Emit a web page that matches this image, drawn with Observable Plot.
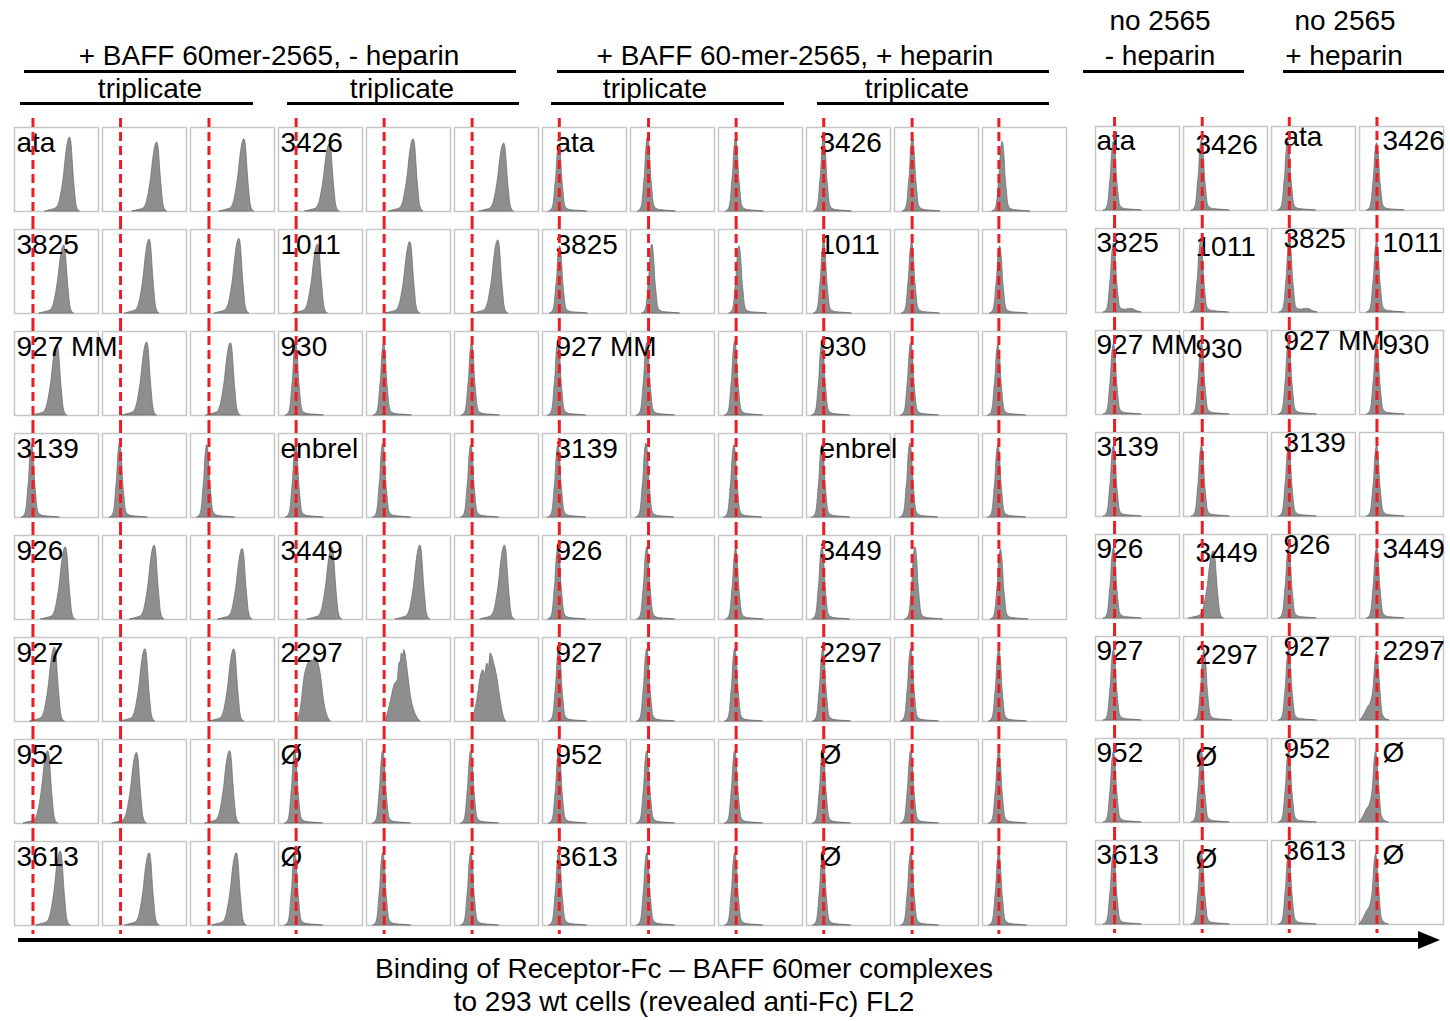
<!DOCTYPE html>
<html><head><meta charset="utf-8">
<script src="https://cdn.jsdelivr.net/npm/d3@7"></script>
<script src="https://cdn.jsdelivr.net/npm/@observablehq/plot@0.6"></script>
<style>
body{margin:0;background:#fff;}
#fig{position:relative;width:1450px;height:1021px;font-family:"Liberation Sans",Arial,Helvetica,sans-serif;color:#000;overflow:hidden;background:#fff}
.t{position:absolute;font-size:28px;line-height:28px;text-align:center;white-space:nowrap;width:500px}
.ln{position:absolute;height:3px;background:#000}
.plot{position:absolute}
</style></head><body>
<div id="fig">
  <div class="t" style="left:910px;top:7px">no 2565</div>
  <div class="t" style="left:1095px;top:7px">no 2565</div>
  <div class="t" style="left:19px;top:42px">+ BAFF 60mer-2565, - heparin</div>
  <div class="t" style="left:545px;top:42px">+ BAFF 60-mer-2565, + heparin</div>
  <div class="t" style="left:910px;top:42px">- heparin</div>
  <div class="t" style="left:1094px;top:42px">+ heparin</div>
  <div class="ln" style="left:24px;top:70px;width:492px"></div>
  <div class="ln" style="left:557px;top:70px;width:492px"></div>
  <div class="ln" style="left:1083px;top:70px;width:161px"></div>
  <div class="ln" style="left:1283px;top:70px;width:161px"></div>
  <div class="t" style="left:-100px;top:75px">triplicate</div>
  <div class="t" style="left:152px;top:75px">triplicate</div>
  <div class="t" style="left:405px;top:75px">triplicate</div>
  <div class="t" style="left:667px;top:75px">triplicate</div>
  <div class="ln" style="left:20px;top:102px;width:233px"></div>
  <div class="ln" style="left:287px;top:102px;width:232px"></div>
  <div class="ln" style="left:551px;top:102px;width:233px"></div>
  <div class="ln" style="left:817px;top:102px;width:232px"></div>
  <div id="leftPlot" class="plot" style="left:0px;top:110px"></div>
  <div id="rightPlot" class="plot" style="left:1082px;top:109px"></div>
  <div style="position:absolute;left:18px;top:938px;width:1402px;height:4px;background:#000"></div>
  <div style="position:absolute;left:1418px;top:931px;width:0;height:0;border-left:22px solid #000;border-top:9px solid transparent;border-bottom:9px solid transparent"></div>
  <div class="t" style="left:234px;top:955px;width:900px">Binding of Receptor-Fc – BAFF 60mer complexes</div>
  <div class="t" style="left:234px;top:988px;width:900px">to 293 wt cells (revealed anti-Fc) FL2</div>
</div>
<script>
// ---- row receptors ----
const receptorsA = ["ata","3825","927 MM","3139","926","927","952","3613"];
const receptorsB = ["3426","1011","930","enbrel","3449","2297","Ø","Ø"];
// right block: enbrel row carries no label
const rightReceptorsB = ["3426","1011","930","","3449","2297","Ø","Ø"];

// ---- which receptor set each column shows ----
const leftSides = ["A","A","A","B","B","B","A","A","A","B","B","B"];
const rightSides = ["A","B","A","B"];
const leftLabelCols = [0,3,6,9];
const rightLabelCols = [0,1,2,3];

// ---- gate (red dashed marker) per column, FL2 units (0-100) ----
const leftGates = [22,21.5,22,21,21,21,20,21.5,21,20.5,21,19.5];
const rightGates = [22.7,22.3,21.2,20.8];

// ---- histogram peak positions (FL2 units), rows x columns ----
const leftPeaks = [
  [66,65,64,61,56,59,20,21,21,21,22,24],
  [59,56,58,47,52,52,21,26,25,21,21,21],
  [51,53,48,21,21,21,19,20,20,19,20,19],
  [21,21,20,21,20,20,19,19,19,19,19,19],
  [61,62,62,64,64,60,19,20,21,19,25,22],
  [48,51,52,43,45,43,20,20,20,20,20,20],
  [40,41,47,20,20,20,20,20,20,20,20,20],
  [55,56,55,20,20,20,20,20,20,20,20,20]
];
const rightPeaks = [
  [22,22,20,21],
  [22,21,22,21],
  [22,22,21,21],
  [22,22,21,21],
  [22,36,21,21],
  [22,25,21,21],
  [22,22,21,20],
  [22,22,21,20]
];

// ---- histogram shape per panel (p positive, n negative, a/b/c 2297 replicates, s shoulder, t tail) ----
const leftShapes = ["ppppppnnnnnn","ppppppnnnnnn","pppnnnnnnnnn","nnnnnnnnnnnn",
                    "ppppppnnnnnn","pppabcnnnnnn","pppnnnnnnnnn","pppnnnnnnnnn"];
const rightShapes = ["nnnn","tntn","nnnn","nnnn","npnn","nnns","nnns","nnns"];

// ---- peak heights (fraction of max) ----
const leftHeights = [
  [.88,.82,.86,.80,.86,.81,.79,.89,.87,.88,.88,.83],
  [.81,.88,.89,.82,.85,.87,.80,.82,.80,.85,.85,.80],
  [.84,.87,.86,.86,.86,.86,.88,.86,.88,.86,.86,.84],
  [.86,.88,.86,.86,.88,.86,.86,.88,.86,.86,.88,.86],
  [.86,.88,.84,.86,.88,.88,.86,.86,.84,.86,.86,.83],
  [.88,.86,.86,1,1,1,.86,.86,.86,.86,.86,.86],
  [.86,.84,.86,.86,.86,.86,.86,.86,.86,.86,.86,.86],
  [.88,.86,.86,.86,.86,.86,.86,.86,.86,.86,.86,.86]
];
const rightHeights = [
  [.82,.84,.82,.80],
  [.82,.84,.86,.84],
  [.84,.84,.86,.84],
  [.84,.84,.84,.84],
  [.84,.80,.84,.84],
  [.84,.84,.84,.82],
  [.84,.84,.84,.84],
  [.84,.84,.84,.84]
];

// ---- histogram profiles (offset from peak, relative count) ----
const profiles = {
  n: {dx:[-12,-9,-7,-6,-5,-3.5,-2.4,-1.2,0,1.2,2.4,3.5,5,6,7,9.5,14,24,33],
      h:[0,0.03,0.1,0.2,0.35,0.55,0.8,0.95,1,0.93,0.75,0.5,0.3,0.17,0.09,0.04,0.02,0.01,0]},
  t: {dx:[-12,-9,-7,-6,-5,-3.5,-2.4,-1.2,0,1.2,2.4,3.5,5,6,7,9.5,14,18,22,27,33],
      h:[0,0.03,0.1,0.2,0.35,0.55,0.8,0.95,1,0.93,0.75,0.5,0.3,0.17,0.09,0.05,0.04,0.05,0.05,0.02,0]},
  p: {dx:[-29,-23,-17,-14,-12,-9.5,-7,-4.7,-2.4,0,1.2,2.4,3.5,4.7,6,7,8.2,9.4,12],
      h:[0,0.02,0.04,0.08,0.15,0.3,0.5,0.75,0.93,1,0.97,0.85,0.65,0.45,0.28,0.15,0.07,0.03,0]},
  a: {dx:[-20,-16,-12,-9,-7,-6,-3,-1.5,0,2.7,4.7,7.8,11,15.6,19.5],
      h:[0.02,0.18,0.53,0.65,0.7,0.68,0.73,0.71,0.77,0.75,0.69,0.53,0.26,0.06,0]},
  b: {dx:[-21.5,-15.6,-11.8,-7.8,-5.9,-4,-3.1,-1.5,0,1.5,4,7.9,13.8,19.6],
      h:[0.02,0.26,0.43,0.49,0.69,0.72,0.81,0.78,0.85,0.8,0.61,0.3,0.08,0]},
  c: {dx:[-21.6,-15.8,-11.8,-8.7,-6.7,-4,-2,0,1.9,4,7.8,11.8,15.6,19],
      h:[0.02,0.26,0.53,0.61,0.56,0.69,0.64,0.81,0.78,0.7,0.53,0.26,0.06,0]},
  s: {dx:[-20,-17,-11,-7,-4,-2,0,1.5,3.5,6.6,10.6,15],
      h:[0,0.05,0.19,0.28,0.51,0.88,1,0.84,0.51,0.09,0.02,0]}
};

function build(sides, namesA, namesB, gates, peaks, shapes, heights, labelCols) {
  const pts = [], gateRows = [], labels = [];
  peaks.forEach((rowPeaks, row) => rowPeaks.forEach((peak, col) => {
    const prof = profiles[shapes[row][col]];
    prof.dx.forEach((d, i) => pts.push({row, col, fl2: peak + d, count: prof.h[i] * heights[row][col]}));
    gateRows.push({row, col, gate: gates[col]});
    const name = sides[col] === "A" ? namesA[row] : namesB[row];
    if (labelCols.includes(col) && name) labels.push({row, col, label: name});
  }));
  return {pts, gateRows, labels};
}

function panelPlot(b, ncols, width, nudges) {
  const textMarks = Object.entries(nudges).map(([c, [dx, dy]]) =>
    Plot.text(b.labels.filter(d => d.col === +c), {
      fx: "col", fy: "row", text: "label", frameAnchor: "top-left", textAnchor: "start",
      lineAnchor: "top", dx, dy, fontSize: 28, fill: "#000"
    }));
  return Plot.plot({
    width, height: 825,
    marginLeft: 12, marginRight: 4, marginTop: 14, marginBottom: 6,
    style: {fontFamily: "'Liberation Sans', Arial, Helvetica, sans-serif", background: "transparent", overflow: "visible"},
    x: {domain: [0, 100], axis: null},
    y: {domain: [0, 1], axis: null},
    fx: {domain: d3.range(ncols), paddingInner: 0.04, paddingOuter: 0, axis: null, label: null},
    fy: {domain: d3.range(8), paddingInner: 0.173, paddingOuter: 0, axis: null, label: null},
    marks: [
      Plot.frame({stroke: "#c6c6c6", strokeWidth: 1.5, fill: "#fff"}),
      Plot.areaY(b.pts, {x: "fl2", y: "count", fx: "col", fy: "row", fill: "#8e8e8e",
        stroke: "#686868", strokeWidth: 0.7, curve: "monotone-x"}),
      ...textMarks,
      Plot.ruleX(b.gateRows, {x: "gate", fx: "col", fy: "row", stroke: "#ee1c24", strokeWidth: 3,
        strokeDasharray: "9,5", insetTop: -9, insetBottom: -9})
    ]
  });
}

const L = build(leftSides, receptorsA, receptorsB, leftGates, leftPeaks, leftShapes, leftHeights, leftLabelCols);
const R = build(rightSides, receptorsA, rightReceptorsB, rightGates, rightPeaks, rightShapes, rightHeights, rightLabelCols);
document.getElementById("leftPlot").append(panelPlot(L, 12, 1072, {0: [2, 5], 3: [2, 5], 6: [13, 5], 9: [13, 5]}));
document.getElementById("rightPlot").append(panelPlot(R, 4, 366, {0: [1, 4], 1: [12, 8], 2: [12, 0], 3: [23, 4]}));
</script>
</body></html>
